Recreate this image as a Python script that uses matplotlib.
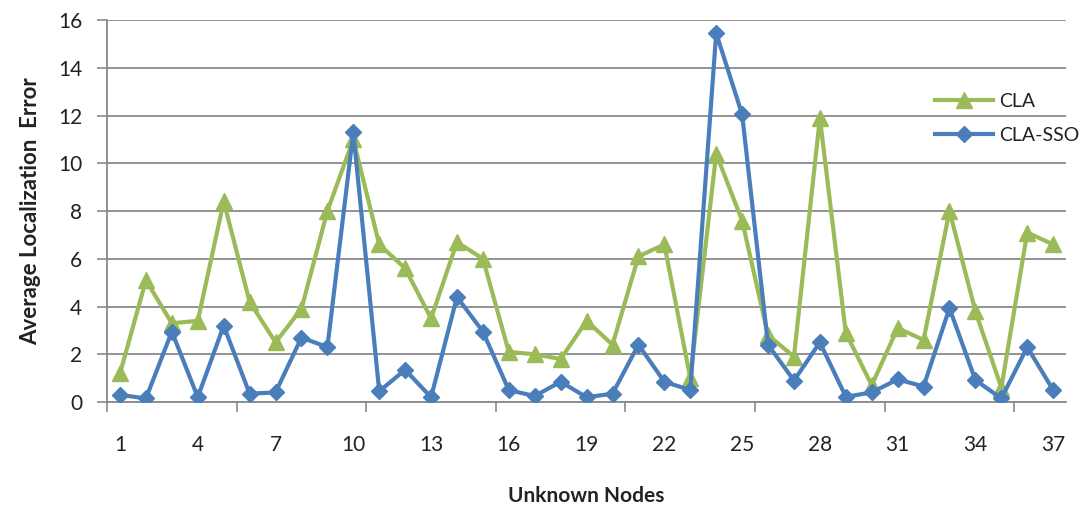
import matplotlib
matplotlib.use("Agg")
import matplotlib.pyplot as plt
from matplotlib.ticker import FixedLocator

# average localization error per unknown node
nodes = list(range(1, 38))
cla = [1.2, 5.1, 3.3, 3.4, 8.4, 4.2, 2.5, 3.9, 8.0, 11.0,
       6.6, 5.6, 3.5, 6.7, 6.0, 2.1, 2.0, 1.8, 3.4, 2.4,
       6.1, 6.6, 1.0, 10.4, 7.6, 2.8, 1.9, 11.9, 2.9, 0.7,
       3.1, 2.6, 8.0, 3.8, 0.6, 7.1, 6.6]
cla_sso = [0.3, 0.15, 2.95, 0.2, 3.2, 0.35, 0.4, 2.7, 2.3, 11.3,
           0.45, 1.35, 0.2, 4.4, 2.95, 0.5, 0.25, 0.85, 0.2, 0.35,
           2.4, 0.85, 0.5, 15.45, 12.05, 2.4, 0.9, 2.5, 0.22, 0.4,
           0.95, 0.65, 3.93, 0.92, 0.15, 2.3, 0.5]
xtick_labels = [str(n) for n in range(1, 38, 3)]

plt.rcParams['font.family'] = ['Lato', 'DejaVu Sans']
text_color = '#222222'
grid_color = '#8a8a8a'

fig = plt.figure(figsize=(10.89, 5.12), dpi=100)
ax = fig.add_axes([0.0983, 0.2148, 0.8807, 0.746])

ax.plot(nodes, cla, color='#9BBB59', lw=3.0, marker='^', markersize=11,
        label='CLA', zorder=3)
ax.plot(nodes, cla_sso, color='#4A7EBB', lw=3.0, marker='D', markersize=8,
        label='CLA-SSO', zorder=4)

ax.set_xlim(0.5, 37.5)
ax.set_ylim(0, 16)
ax.set_yticks(range(0, 17, 2))
ax.yaxis.grid(True, color=grid_color, lw=1.3)
ax.set_axisbelow(True)

ax.set_xticks(range(1, 38, 3))
ax.set_xticklabels(xtick_labels)
ax.xaxis.set_minor_locator(FixedLocator([0.5 + 5 * k for k in range(8)]))
ax.tick_params(axis='x', which='major', length=0, pad=24, labelsize=15,
               labelcolor=text_color)
ax.tick_params(axis='x', which='minor', length=7, width=1.2, color=grid_color,
               direction='out')
ax.tick_params(axis='y', length=7, width=1.2, color=grid_color, pad=11,
               labelsize=15, labelcolor=text_color)

for side in ('top', 'right'):
    ax.spines[side].set_visible(False)
for side in ('left', 'bottom'):
    ax.spines[side].set_color(grid_color)
    ax.spines[side].set_linewidth(1.3)

ax.set_xlabel('Unknown Nodes', fontsize=15, fontweight='bold',
              color=text_color, labelpad=22)
ax.set_ylabel('Average Localization  Error', fontsize=16, fontweight='bold',
              color=text_color, labelpad=12)

leg = ax.legend(loc='upper left', bbox_to_anchor=(0.855, 0.83), frameon=False,
                fontsize=14, handlelength=3.0, handletextpad=0.3,
                labelspacing=0.9, borderaxespad=0)
for t in leg.get_texts():
    t.set_color(text_color)

fig.savefig('out.png', dpi=100)
